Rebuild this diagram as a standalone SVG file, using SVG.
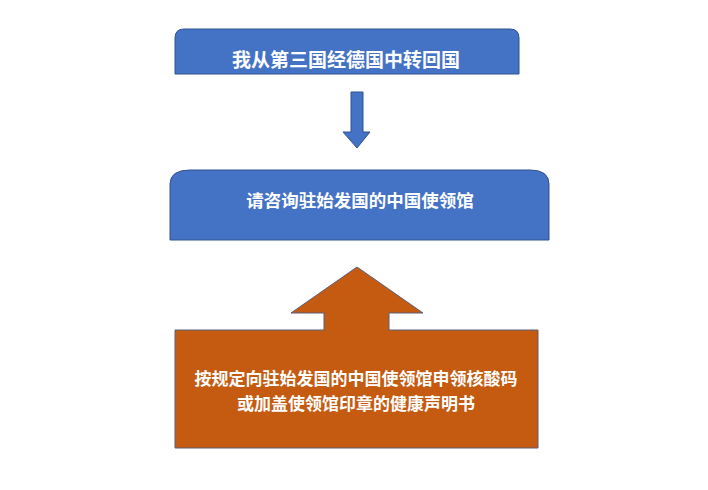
<svg xmlns="http://www.w3.org/2000/svg" width="708" height="490" viewBox="0 0 708 490">
<style>
.blue{fill:#4472C4;stroke:#2F528F;stroke-width:1}
.orange{fill:#C55A11;stroke:#5A5F7A;stroke-width:1}
.t{font-family:"Noto Sans CJK SC","Noto Sans",sans-serif;font-weight:bold;fill:#FFFFFF;text-anchor:middle;dominant-baseline:central}
</style>
<rect width="708" height="490" fill="#FFFFFF"/>
<g id="node-top">
<path class="blue" d="M175,74 L175,38 Q175,29 184,29 L510,29 Q519,29 519,38 L519,74 Z"/>
<text class="t" x="346" y="58" font-size="19">我从第三国经德国中转回国</text>
</g>
<g id="node-middle">
<path class="blue" d="M170,240 L170,184 Q170,170 190,170 L530,170 Q549,170 549,184 L549,240 Z"/>
<text class="t" x="360" y="199" font-size="17.5">请咨询驻始发国的中国使领馆</text>
</g>
<g id="node-bottom">
<path class="orange" d="M175,330 L324,330 L324,313 L291,313 L357,267 L423,313 L389,313 L389,330 L538,330 L538,448 L175,448 Z"/>
<text class="t" x="356" y="377" font-size="17">按规定向驻始发国的中国使领馆申领核酸码</text>
<text class="t" x="356" y="402" font-size="17">或加盖使领馆印章的健康声明书</text>
</g>
<g id="connectors">
<path class="blue" d="M351,92 L363,92 L363,132 L370,132 L357,148 L343,132 L351,132 Z"/>
</g>
</svg>
